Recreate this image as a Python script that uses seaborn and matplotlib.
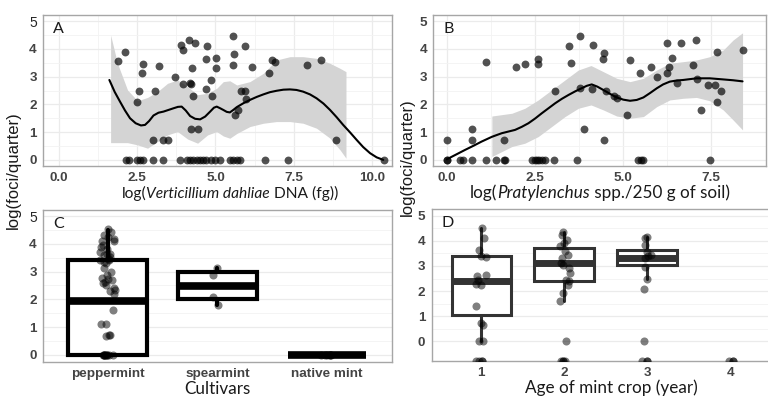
import numpy as np
import pandas as pd
import seaborn as sns
import matplotlib.pyplot as plt

# ---- Panel A : log(V. dahliae DNA) vs log(foci/quarter)
vd_x = [1.90, 2.11, 2.55, 2.49, 2.64, 2.69, 3.20, 3.07, 2.99, 3.32, 3.49, 3.70, 3.91, 3.97,
        3.95, 4.15, 4.34, 4.18, 4.22, 4.24, 4.28, 4.23, 4.44, 4.72, 4.70, 4.70, 4.87, 4.89,
        5.02, 5.02, 5.57, 5.59, 5.57, 5.94, 5.95, 5.97, 5.83, 5.73, 5.61, 6.16, 6.71, 6.82,
        6.90, 7.91, 8.36, 8.86]
vd_y = [3.58, 3.89, 2.49, 2.09, 3.13, 3.47, 3.39, 2.49, 0.71, 0.71, 0.71, 2.99, 4.15, 3.95,
        2.72, 4.31, 4.21, 2.76, 2.72, 3.31, 2.30, 1.11, 1.11, 4.10, 3.62, 2.56, 2.87, 2.30,
        3.68, 3.31, 4.46, 3.83, 3.43, 4.10, 2.49, 2.21, 2.49, 1.79, 1.61, 3.35, 3.13, 3.61,
        3.52, 3.43, 3.61, 0.71]
vd_zero_x = [2.14, 2.25, 2.48, 2.59, 2.69, 3.01, 3.33, 3.87, 4.08, 4.19, 4.29, 4.40, 4.50,
             4.61, 4.71, 4.85, 4.98, 5.14, 5.46, 5.57, 5.68, 5.78, 6.58, 7.33, 10.38]
vd_fit_x = [1.61, 1.78, 1.95, 2.11, 2.27, 2.45, 2.62, 2.75, 2.88, 3.02, 3.18, 3.34, 3.50,
            3.66, 3.80, 3.92, 4.05, 4.19, 4.35, 4.51, 4.67, 4.83, 4.95, 5.04, 5.15, 5.25,
            5.36, 5.46, 5.57, 5.68, 5.89, 6.10, 6.32, 6.53, 6.74, 6.95, 7.17, 7.38, 7.59,
            7.80, 8.02, 8.23, 8.45, 8.66, 8.87, 9.08, 9.30, 9.51, 9.72, 9.94, 10.15, 10.36]
vd_fit_y = [2.88, 2.45, 2.10, 1.78, 1.50, 1.32, 1.24, 1.26, 1.40, 1.60, 1.70, 1.74, 1.80,
            1.86, 1.91, 1.92, 1.78, 1.58, 1.48, 1.46, 1.56, 1.74, 1.88, 1.92, 1.86, 1.80,
            1.73, 1.71, 1.80, 1.90, 2.04, 2.16, 2.27, 2.36, 2.44, 2.49, 2.53, 2.54, 2.52,
            2.46, 2.36, 2.22, 2.03, 1.80, 1.54, 1.26, 0.99, 0.72, 0.46, 0.24, 0.09, 0.00]
vd_band_x = [1.65, 1.87, 2.19, 2.51, 2.83, 3.15, 3.47, 3.79, 4.11, 4.43, 4.75, 5.04, 5.25,
             5.46, 5.68, 6.10, 6.53, 6.95, 7.38, 7.80, 8.23, 8.66, 8.98, 9.17]
vd_band_hi = [4.50, 3.48, 2.52, 2.13, 2.25, 2.46, 2.76, 2.88, 2.64, 2.35, 2.40, 2.58, 2.82,
              2.85, 2.70, 2.82, 3.12, 3.60, 3.72, 3.72, 3.66, 3.48, 3.30, 3.18]
vd_band_lo = [0.62, 0.62, 0.62, 0.54, 0.42, 0.66, 0.90, 1.02, 0.75, 0.60, 0.90, 1.02, 0.86,
              0.78, 0.95, 1.20, 1.32, 1.38, 1.38, 1.32, 1.14, 0.78, 0.36, 0.06]

# ---- Panel B : log(Pratylenchus) vs log(foci/quarter)
pr_x = [0.00, 0.71, 0.71, 1.11, 1.62, 1.96, 2.21, 2.58, 2.60, 3.08, 3.46, 3.53, 3.80, 3.79,
        3.89, 4.15, 4.12, 4.43, 4.47, 4.47, 4.54, 4.75, 4.83, 5.11, 5.21, 5.49, 5.82, 5.97,
        6.25, 6.39, 6.31, 6.27, 6.55, 6.65, 6.99, 7.10, 7.12, 7.22, 7.43, 7.62, 7.81, 7.67,
        7.69, 8.41]
pr_y = [0.72, 1.10, 0.72, 3.54, 0.72, 3.36, 3.44, 3.63, 3.44, 2.48, 4.11, 3.48, 4.47, 2.58,
        1.10, 4.14, 2.55, 3.62, 3.84, 0.70, 2.48, 2.30, 2.22, 1.62, 3.60, 3.14, 3.33, 3.00,
        4.20, 3.69, 3.33, 3.14, 2.78, 4.23, 3.42, 4.32, 2.90, 1.80, 2.71, 2.71, 2.49, 2.07,
        3.90, 3.96]
pr_zero_x = [0.00, 0.00, 0.38, 0.47, 0.71, 1.11, 1.39, 1.62, 1.64, 2.42, 2.51, 2.56, 2.61,
             2.70, 2.80, 3.06, 3.69, 5.45, 5.53, 5.59, 7.48]
pr_fit_x = [0.00, 0.26, 0.52, 0.76, 0.99, 1.28, 1.56, 1.75, 1.94, 2.13, 2.32, 2.51, 2.70,
            2.89, 3.08, 3.27, 3.46, 3.65, 3.83, 3.98, 4.12, 4.28, 4.45, 4.64, 4.83, 5.02,
            5.21, 5.40, 5.59, 5.78, 5.97, 6.15, 6.34, 6.53, 6.72, 6.91, 7.10, 7.48, 7.86,
            8.14, 8.41]
pr_fit_y = [0.02, 0.19, 0.36, 0.51, 0.66, 0.83, 0.96, 1.02, 1.08, 1.19, 1.32, 1.49, 1.68,
            1.86, 2.04, 2.20, 2.34, 2.47, 2.58, 2.67, 2.72, 2.64, 2.52, 2.38, 2.25, 2.17,
            2.13, 2.16, 2.25, 2.41, 2.58, 2.72, 2.82, 2.86, 2.88, 2.91, 2.94, 2.94, 2.90,
            2.87, 2.83]
pr_band_x = [1.28, 1.85, 2.22, 2.60, 2.98, 3.36, 3.74, 4.10, 4.45, 4.83, 5.21, 5.59, 5.97,
             6.34, 6.72, 7.10, 7.48, 7.86, 8.14, 8.41]
pr_band_hi = [1.58, 1.68, 1.86, 2.16, 2.52, 2.88, 3.24, 3.40, 3.18, 2.94, 2.82, 2.94, 3.24,
              3.48, 3.54, 3.60, 3.72, 3.96, 4.32, 4.58]
pr_band_lo = [0.12, 0.48, 0.60, 0.84, 1.20, 1.56, 1.86, 1.98, 1.80, 1.58, 1.50, 1.56, 1.92,
              2.16, 2.22, 2.25, 2.13, 1.80, 1.44, 1.08]

# ---- Panel C : cultivars
cultivars = ["peppermint", "spearmint", "native mint"]
peppermint_y = [4.54, 4.42, 4.31, 4.24, 4.16, 4.12, 4.10, 3.95, 3.89, 3.83, 3.70, 3.65, 3.62,
                3.58, 3.52, 3.47, 3.43, 3.40, 3.35, 3.31, 3.13, 2.99, 2.87, 2.78, 2.74, 2.69,
                2.62, 2.57, 2.50, 2.40, 2.32, 2.30, 2.20, 1.61, 1.12, 1.11, 0.71, 0.70, 0.66,
                0, 0, 0, 0, 0, 0, 0, 0, 0, 0]
spearmint_y = [3.13, 2.87, 2.08, 1.79]
native_y = [0, 0, 0, 0, 0, 0]
cv_whislo = [0.00, 1.79, 0.00]
cv_q1 = [0.00, 2.00, 0.00]
cv_med = [1.93, 2.48, 0.00]
cv_q3 = [3.42, 2.97, 0.00]
cv_whishi = [4.50, 3.13, 0.00]

# ---- Panel D : age of mint crop (-inf = log(0), drawn on the panel edge)
ages = ["1", "2", "3", "4"]
age1_y = [4.50, 4.10, 3.64, 3.38, 3.35, 2.65, 2.60, 2.45, 2.30, 2.25, 1.39, 0.73, 0.65, 0, 0,
          -np.inf, -np.inf, -np.inf, -np.inf]
age2_y = [4.34, 4.24, 4.04, 3.90, 3.78, 3.58, 3.45, 3.31, 3.11, 3.05, 2.91, 2.71, 2.45, 2.40,
          2.25, 1.92, 1.59, 0, -np.inf, -np.inf, -np.inf, -np.inf]
age3_y = [4.15, 4.10, 3.85, 3.55, 3.45, 3.40, 3.30, 2.95, 2.50, 2.10, 0,
          -np.inf, -np.inf, -np.inf]
age4_y = [-np.inf, -np.inf, -np.inf]
age_whislo = [0.00, 1.59, 2.50]
age_q1 = [1.06, 2.40, 3.04]
age_med = [2.39, 3.11, 3.31]
age_q3 = [3.38, 3.70, 3.64]
age_whishi = [4.50, 4.34, 4.15]

sns.set_style("white")
plt.rcParams['font.family'] = ['Liberation Sans', 'DejaVu Sans']

TICK_KW = dict(family='Liberation Sans', weight='bold', size=9.7, color='#444444')
TITLE_KW = dict(family='Lato', size=12.3, color='#1a1a1a')
BAND = '#d4d4d4'


def style_axes(ax, xgrid=True):
    for s in ax.spines.values():
        s.set_color('#a6a6a6')
        s.set_linewidth(1.0)
    ax.tick_params(length=3, width=0.8, color='#555555', pad=1.5)
    for lab in ax.get_xticklabels() + ax.get_yticklabels():
        lab.set(**TICK_KW)
    ax.set_yticks([0, 1, 2, 3, 4, 5])
    ax.set_yticks([0.5, 1.5, 2.5, 3.5, 4.5], minor=True)
    ax.grid(axis='y', which='major', color='#ebebeb', lw=0.9)
    ax.grid(axis='y', which='minor', color='#f3f3f3', lw=0.6)
    if xgrid:
        ax.grid(axis='x', which='major', color='#ebebeb', lw=0.9)
        ax.grid(axis='x', which='minor', color='#f3f3f3', lw=0.6)
    ax.tick_params(which='minor', length=0)
    ax.set_axisbelow(True)
    ax.set_ylabel('')
    ax.set_xlabel('')


def scatter_panel(ax, px, py, zx, fx, fy, bx, blo, bhi, xticks, xlim):
    ax.fill_between(bx, blo, bhi, color=BAND, lw=0, zorder=1)
    df = pd.DataFrame({'x': px + zx, 'y': py + [0] * len(zx)})
    sns.scatterplot(data=df, x='x', y='y', ax=ax, color='black', alpha=0.68,
                    s=32, linewidth=0, zorder=3)
    sns.lineplot(x=fx, y=fy, ax=ax, color='black', lw=1.5, zorder=4, estimator=None, sort=False)
    ax.set_xlim(*xlim)
    ax.set_ylim(-0.22, 5.22)
    ax.set_xticks(xticks)
    ax.set_xticklabels([f"{t:.1f}" for t in xticks])
    ax.set_xticks([(a + b) / 2 for a, b in zip(xticks[:-1], xticks[1:])], minor=True)
    style_axes(ax)


def box_panel(ax, groups, labels, whislo, q1, med, q3, whishi, color, lw, mlw, xlim, ylim):
    stats = [dict(whislo=a, q1=b, med=c, q3=d, whishi=e)
             for a, b, c, d, e in zip(whislo, q1, med, q3, whishi)]
    ax.bxp(stats, positions=list(range(len(stats))), widths=0.72, patch_artist=True,
           showfliers=False, showcaps=False, manage_ticks=False,
           boxprops=dict(facecolor='white', edgecolor=color, linewidth=lw),
           medianprops=dict(color=color, linewidth=mlw, solid_capstyle='butt'),
           whiskerprops=dict(color=color, linewidth=lw))
    rows = []
    for lab, vals in zip(labels, groups):
        for v in vals:
            rows.append((lab, ylim[0] if v == -np.inf else v))
    df = pd.DataFrame(rows, columns=['g', 'y'])
    np.random.seed(3)
    sns.stripplot(data=df, x='g', y='y', order=labels, ax=ax, color='black', alpha=0.5,
                  size=5.8, jitter=0.07, linewidth=0, zorder=3)
    ax.set_xlim(*xlim)
    ax.set_ylim(*ylim)
    style_axes(ax, xgrid=False)


fig = plt.figure(figsize=(7.68, 3.97), dpi=100)
axA = fig.add_axes([0.056, 0.582, 0.454, 0.380])
axB = fig.add_axes([0.564, 0.582, 0.434, 0.380])
axC = fig.add_axes([0.056, 0.089, 0.454, 0.382])
# panel D runs past the right edge of the picture, as in the original figure
axD = fig.add_axes([0.562, 0.091, 0.4535, 0.383])

scatter_panel(axA, vd_x, vd_y, vd_zero_x, vd_fit_x, vd_fit_y, vd_band_x, vd_band_lo,
              vd_band_hi, [0.0, 2.5, 5.0, 7.5, 10.0], (-0.51, 10.63))
scatter_panel(axB, pr_x, pr_y, pr_zero_x, pr_fit_x, pr_fit_y, pr_band_x, pr_band_lo,
              pr_band_hi, [0.0, 2.5, 5.0, 7.5], (-0.39, 9.09))

box_panel(axC, [peppermint_y, spearmint_y, native_y], cultivars, cv_whislo, cv_q1, cv_med,
          cv_q3, cv_whishi, 'black', 3.0, 5.5, (-0.59, 2.59), (-0.25, 5.22))
axC.set_xlabel('Cultivars', labelpad=0.5, **TITLE_KW)

box_panel(axD, [age1_y, age2_y, age3_y, age4_y], ages, age_whislo, age_q1, age_med,
          age_q3, age_whishi, '#333333', 2.2, 5.0, (-0.6, 3.6), (-0.77, 5.27))
axD.set_xlabel('Age of mint crop (year)', labelpad=1, **TITLE_KW)
axD.xaxis.set_label_coords(0.515, -0.12)


def mixed_title(parts, xc_px, yc_px, size):
    # x title with italic genus names, built from pieces laid end to end
    texts = [fig.text(0, 1 - yc_px / 397, s, style=st, ha='left', va='center',
                      family='Lato', size=size, color='#1a1a1a') for s, st in parts]
    fig.canvas.draw()
    r = fig.canvas.get_renderer()
    widths = [t.get_window_extent(r).width for t in texts]
    base = texts[0].get_window_extent(r).y0
    x = xc_px - sum(widths) / 2
    for t, w in zip(texts, widths):
        t.set_va('bottom')
        t.set_position((x / 768, base / 397))
        x += w


mixed_title([('log(', 'normal'), ('Verticillium dahliae', 'italic'),
             (' DNA (fg))', 'normal')], 230, 193, 11.2)
mixed_title([('log(', 'normal'), ('Pratylenchus', 'italic'),
             (' spp./250 g of soil)', 'normal')], 600, 193, 12.3)

for ax, letter in zip([axA, axB, axC, axD], 'ABCD'):
    ax.text(10 / (ax.get_position().width * 768), 0.955, letter, transform=ax.transAxes,
            ha='left', va='top', family='Lato', size=11.5, color='#1a1a1a')

fig.text(13 / 768, 1 - 170 / 397, 'log(foci/quarter)', rotation=90, ha='center', va='center',
         family='Liberation Sans', size=12, color='#1a1a1a')
fig.text(407 / 768, 1 - 157 / 397, 'log(foci/quarter)', rotation=90, ha='center', va='center',
         family='Liberation Sans', size=12, color='#1a1a1a')

fig.savefig('out.png', dpi=100)
